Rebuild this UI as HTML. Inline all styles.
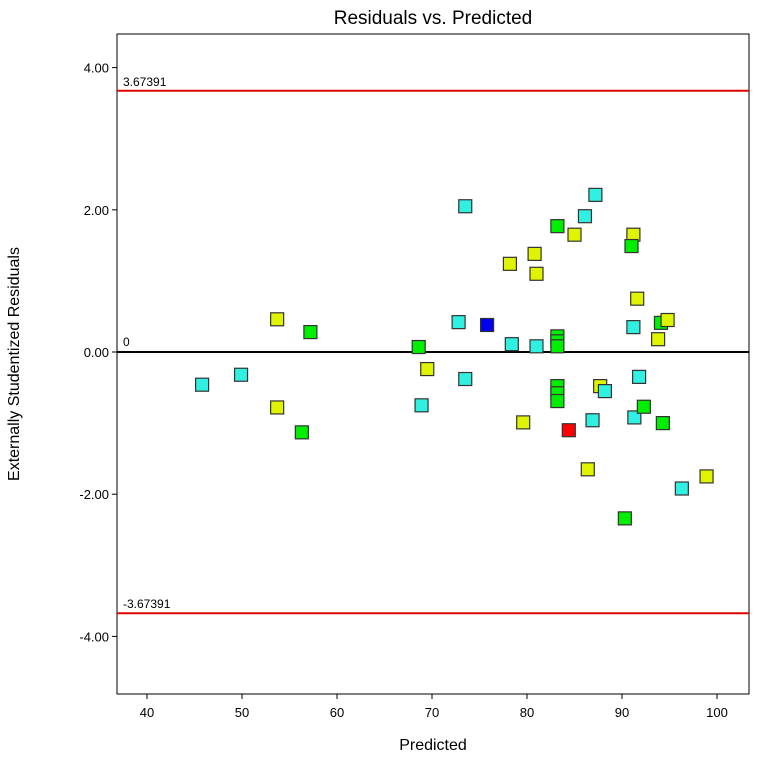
<!DOCTYPE html>
<html><head><meta charset="utf-8"><style>
body{margin:0;background:#fff;font-family:"Liberation Sans",sans-serif}
</style></head><body>
<svg id="chart" width="762" height="755" font-family="Liberation Sans, sans-serif">
<text x="433" y="24" text-anchor="middle" font-size="19">Residuals vs. Predicted</text>
<text x="433" y="750" text-anchor="middle" font-size="16">Predicted</text>
<text transform="translate(19,364) rotate(-90)" text-anchor="middle" font-size="16">Externally Studentized Residuals</text>
<rect x="117" y="34" width="632" height="660" fill="none" stroke="#000" stroke-width="1"/>
<g id="axes"></g>
<g id="marks"></g>
</svg>
<script>
const xs=[45.8,49.9,53.7,53.7,57.2,56.3,68.6,69.5,68.9,72.8,73.5,73.5,75.8,78.2,78.4,80.8,81.0,81.0,79.6,83.2,83.2,83.2,83.2,83.2,83.2,83.2,85.0,86.1,87.2,84.4,86.9,86.4,87.7,88.2,91.2,91.0,91.6,91.2,91.8,91.3,92.3,90.3,93.8,94.1,94.8,94.3,96.3,98.9];
const ys=[-0.46,-0.32,0.46,-0.78,0.28,-1.13,0.07,-0.24,-0.75,0.42,2.05,-0.38,0.38,1.24,0.11,1.38,1.10,0.08,-0.99,1.77,0.22,0.15,0.08,-0.48,-0.58,-0.69,1.65,1.91,2.21,-1.10,-0.96,-1.65,-0.48,-0.55,1.65,1.49,0.75,0.35,-0.35,-0.92,-0.77,-2.34,0.18,0.41,0.45,-1.0,-1.92,-1.75];
const groups=["c","c","y","y","g","g","g","y","c","c","c","c","b","y","c","y","y","c","y","g","g","g","g","g","g","g","y","c","c","r","c","y","y","c","y","g","y","c","c","c","g","g","y","g","y","g","c","y"];
const xTicks=[40,50,60,70,80,90,100];
const yTicks=[4,2,0,-2,-4];
const yTickLabels=["4.00","2.00","0.00","-2.00","-4.00"];
const limit=3.67391;
const colors={c:"#30f0e2",y:"#dff400",g:"#00ee00",b:"#0000f0",r:"#ff0000"};
const X=v=>147+(v-40)*9.5, Y=v=>352-v*71.1;
const NS="http://www.w3.org/2000/svg";
const ax=document.getElementById('axes'), mk=document.getElementById('marks');
function el(t,a,p){const e=document.createElementNS(NS,t);for(const k in a)e.setAttribute(k,a[k]);p.appendChild(e);return e;}
xTicks.forEach(v=>{
  const l=el('line',{x1:X(v),x2:X(v),y1:694,y2:699,stroke:'#000'},ax);
  
  
  const t=el('text',{x:X(v),y:717,'text-anchor':'middle','font-size':13},ax);t.textContent=v;
  
  
});
yTicks.forEach((v,i)=>{
  const l=el('line',{x1:112,x2:117,y1:Y(v),y2:Y(v),stroke:'#000'},ax);
  
  
  const t=el('text',{x:109,y:Y(v)+5,'text-anchor':'end','font-size':13},ax);t.textContent=yTickLabels[i];
  
  
});
[limit,-limit].forEach(v=>{
  const l=el('line',{x1:117,x2:749,y1:Y(v),y2:Y(v),stroke:'#e00000','stroke-width':2},ax);
  
  
  const t=el('text',{x:123,y:Y(v)-5,'font-size':12},ax);t.textContent=v>0?"3.67391":"-3.67391";
  
  
});
const z=el('line',{x1:117,x2:749,y1:Y(0),y2:Y(0),stroke:'#000','stroke-width':2},ax);


const zt=el('text',{x:123,y:Y(0)-6,'font-size':12},ax);zt.textContent="0";


xs.forEach((v,i)=>{
  const r=el('rect',{x:X(v)-6.5,y:Y(ys[i])-6.5,width:13,height:13,fill:colors[groups[i]],stroke:'#333','stroke-width':1.2},mk);
  
  
});
</script>
</body></html>
